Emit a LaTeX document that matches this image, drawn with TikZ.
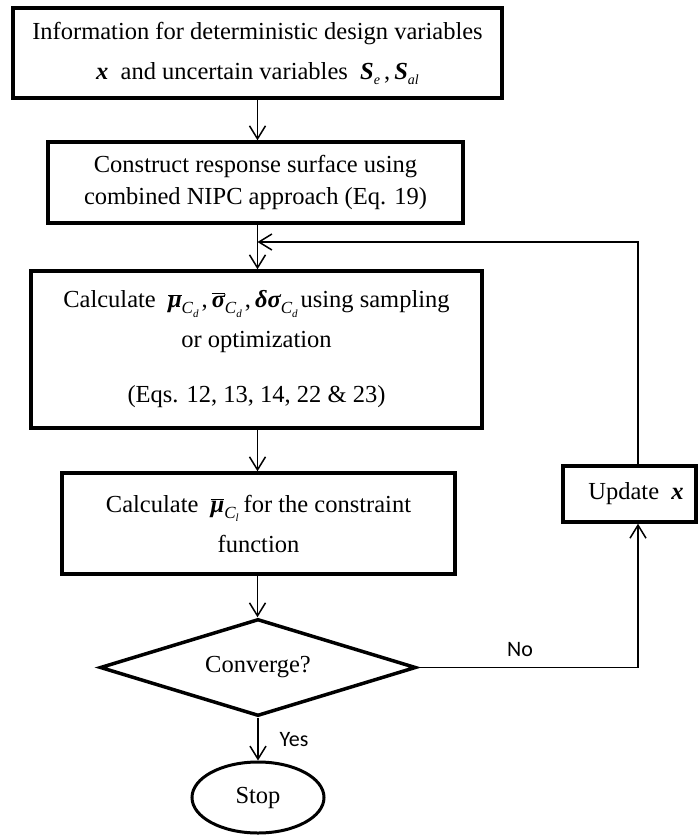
\documentclass[tikz,border=0pt]{standalone}
\usepackage{fontspec}
\setmainfont{Liberation Serif}
\newfontfamily\carl{Carlito}
\usetikzlibrary{arrows.meta,shapes.geometric}
\newcommand\bi[1]{{\bfseries\itshape #1}}
\newcommand\subsc[1]{\raisebox{-6pt}{\fontsize{17}{17}\selectfont\itshape C\raisebox{-3.5pt}{\fontsize{11}{11}\selectfont #1}}\hspace{3pt}}
\newcommand\barit[1]{$\overline{\hbox{\bi{#1}}}$}
\begin{document}
\begin{tikzpicture}[x=1pt,y=-1pt,
  box/.style={draw, line width=3.5pt, rectangle, inner sep=0pt, align=center,
    font=\fontsize{24.5}{40}\selectfont},
  arr/.style={line width=1.5pt, -{Straight Barb[length=13pt,width=16pt,line width=1.5pt]}},
  lbl/.style={font=\carl\fontsize{22}{22}\selectfont, inner sep=0pt},
  plain/.style={font=\fontsize{24.5}{40}\selectfont, inner sep=0pt}]
\useasboundingbox (0,0) rectangle (699,836);

\node[box, minimum width=489pt, minimum height=90pt] (b1) at (257.5,53)
  {Information for deterministic design variables\\
   \bi{x} \ and uncertain variables \ \bi{S}\raisebox{-5pt}{\fontsize{14}{14}\selectfont\itshape e}\,,\,\bi{S}\raisebox{-5pt}{\fontsize{14}{14}\selectfont\itshape al}};

\node[box, minimum width=415pt, minimum height=81pt, font=\fontsize{24.5}{32}\selectfont] (b2) at (255.5,182.5)
  {Construct response surface using\\ combined NIPC approach (Eq. 19)};

\node[box, minimum width=451pt, minimum height=157pt] (b3) at (256.5,349.5)
  {Calculate \ \barit{μ}\subsc{d},\,\barit{σ}\subsc{d},\,\bi{δσ}\subsc{d}using sampling\\
   or optimization\\[15pt] (Eqs. 12, 13, 14, 22 \& 23)};

\node[box, minimum width=393pt, minimum height=101pt] (b4) at (258.5,523.5)
  {Calculate \ \barit{μ}\subsc{l}\hspace{2pt}for the constraint\\ function};

\node[draw, diamond, aspect=3.26, line width=3.5pt, minimum width=316pt, minimum height=97pt,
  inner sep=0pt, font=\fontsize{24.5}{24}\selectfont] (dia) at (258,667.5) {Converge?};

\node[draw, ellipse, line width=3pt, minimum width=132pt, minimum height=71pt,
  inner sep=0pt, font=\fontsize{24.5}{24}\selectfont] (stop) at (258,797.5) {Stop};

\node[draw, rectangle, line width=3.5pt, minimum width=133pt, minimum height=56pt, inner sep=0pt] (upd) at (629.5,494) {};
\node[plain] (updtext) at (636,494) {Update \ \bi{x}};

\coordinate (vx) at (638,0);
\coordinate (cx) at (257.5,0);
\coordinate (fb) at (257.5,242);

\draw[arr] (b1.south -| cx) -- (b2.north -| cx);
\draw[arr] (b2.south -| cx) -- (b3.north -| cx);
\draw[arr] (upd.north -| vx) |- (fb);
\draw[arr] (b3.south -| cx) -- (b4.north -| cx);
\draw[arr] (b4.south -| cx) -- (dia.north -| cx);
\draw[arr] (dia.south) -- (stop.north);
\draw[arr] (dia.east) -| (upd.south -| vx);

\node[lbl] (yes) at (294,740) {Yes};
\node[lbl] (no) at (520,650) {No};
\end{tikzpicture}
\end{document}
